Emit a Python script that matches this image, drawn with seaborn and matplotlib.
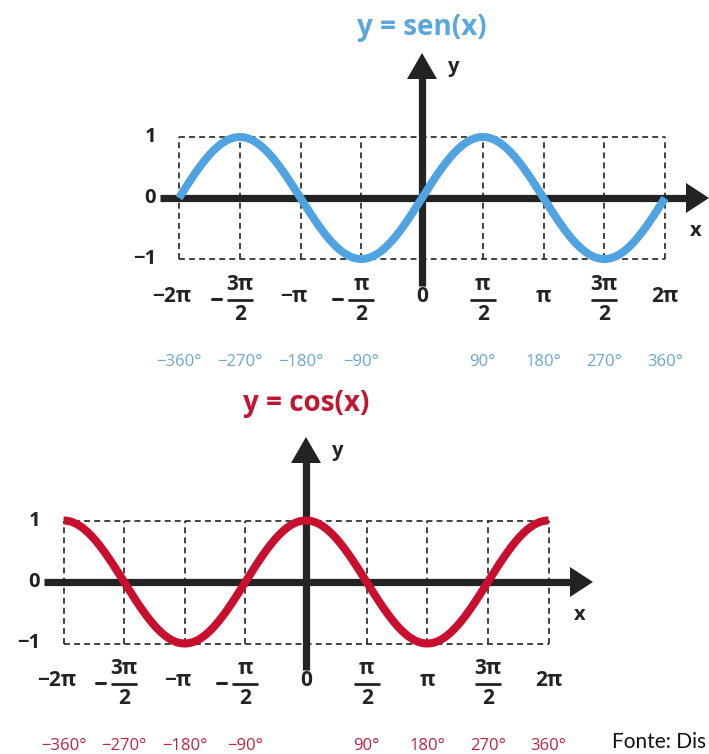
import numpy as np
import matplotlib
matplotlib.use("Agg")
import matplotlib.pyplot as plt
import seaborn as sns

# Grid angles, in multiples of pi/2
half_pi_steps = [-4, -3, -2, -1, 0, 1, 2, 3, 4]
# Radian labels: (sign, numerator, denominator); denominator None means one-line label
radian_labels = [
    ("", "−2π", None), ("−", "3π", "2"), ("", "−π", None), ("−", "π", "2"),
    ("", "0", None), ("", "π", "2"), ("", "π", None), ("", "3π", "2"), ("", "2π", None),
]
degree_labels = ["−360°", "−270°", "−180°", "−90°", "", "90°", "180°", "270°", "360°"]
y_ticks = [1, 0, -1]
y_tick_labels = ["1", "0", "−1"]

titles = ["y = sen(x)", "y = cos(x)"]
functions = [np.sin, np.cos]
curve_colors = ["#4fa3e0", "#c8102e"]
title_colors = ["#5ba6dc", "#c01632"]
degree_colors = ["#6aa6d2", "#c0243c"]

sns.set_theme(style="white")
plt.rcParams["font.family"] = ["Open Sans", "DejaVu Sans"]

W, H = 709, 754
fig = plt.figure(figsize=(W / 100, H / 100), dpi=100)
fig.patch.set_facecolor("white")

DARK = "#232323"

# Panel layout in pixels: origin position, scale per unit, vertical band
panels = [
    dict(ox=422, oy=198, sx=486 / (4 * np.pi), sy=61.0, top=0, bottom=377, title_dy=-170),
    dict(ox=306, oy=582, sx=485 / (4 * np.pi), sy=61.5, top=377, bottom=754, title_dy=-178),
]

x_curve = np.linspace(-2 * np.pi, 2 * np.pi, 721)

for i, p in enumerate(panels):
    ax = fig.add_axes([0, 1 - p["bottom"] / H, 1, (p["bottom"] - p["top"]) / H])
    ax.set_xlim(-p["ox"] / p["sx"], (W - p["ox"]) / p["sx"])
    ax.set_ylim((p["oy"] - p["bottom"]) / p["sy"], (p["oy"] - p["top"]) / p["sy"])
    ax.set_axis_off()

    dx = lambda px: px / p["sx"]
    dy = lambda px: px / p["sy"]

    ticks = [s * np.pi / 2 for s in half_pi_steps]

    # dashed guide box
    dash = dict(color="#2a2a2a", lw=1.25, dashes=(3.4, 2.4), zorder=1)
    for t in ticks:
        ax.plot([t, t], [-1, 1], **dash)
    for yv in (1, -1):
        ax.plot([ticks[0], ticks[-1]], [yv, yv], **dash)

    # x axis with arrow head
    ax.plot([-dx(262), dx(266)], [0, 0], color=DARK, lw=5.2, solid_capstyle="butt", zorder=2)
    ax.fill([dx(264), dx(287), dx(264)], [dy(15), 0, -dy(15)], color=DARK, lw=0, zorder=2)
    # y axis with arrow head
    ax.plot([0, 0], [-dy(88), dy(121)], color=DARK, lw=5.2, solid_capstyle="butt", zorder=2)
    ax.fill([-dx(15), 0, dx(15)], [dy(119), dy(145), dy(119)], color=DARK, lw=0, zorder=2)

    # the curve
    sns.lineplot(x=x_curve, y=functions[i](x_curve), ax=ax, color=curve_colors[i],
                 lw=5.8, zorder=3, sort=False, estimator=None)
    ax.lines[-1].set_solid_capstyle("butt")

    bold = dict(fontweight="bold", color=DARK, va="center")
    ax.text(0, dy(-p["title_dy"]), titles[i], ha="center", va="center",
            fontsize=20, fontweight="bold", color=title_colors[i])
    ax.text(dx(32), dy(131), "y", ha="center", fontsize=14.5, **bold)
    ax.text(dx(274), -dy(33), "x", ha="center", fontsize=14.5, **bold)

    for yv, lab in zip(y_ticks, y_tick_labels):
        ax.text(-dx(266), yv, lab, ha="right", fontsize=14.5, **bold)

    for t, (sign, num, den), deg in zip(ticks, radian_labels, degree_labels):
        if den is None:
            shift = -dx(7) if num.startswith("−") else 0
            ax.text(t + shift, -dy(98), num, ha="center", fontsize=15, **bold)
        else:
            ax.text(t, -dy(86), num, ha="center", fontsize=15, **bold)
            ax.plot([t - dx(12), t + dx(12)], [-dy(102), -dy(102)], color=DARK, lw=2.0)
            ax.text(t, -dy(117), den, ha="center", fontsize=15, **bold)
            if sign:
                ax.plot([t - dx(28), t - dx(19)], [-dy(101), -dy(101)], color=DARK, lw=2.2)
        if deg:
            ax.text(t, -dy(164), deg, ha="center", va="center", fontsize=12,
                    color=degree_colors[i])

fig.text(612 / W, 1 - 742 / H, "Fonte: Dis", ha="left", va="center",
         fontsize=15, color="#111111", family=["Lato", "DejaVu Sans"])

fig.savefig("out.png", dpi=100, facecolor="white")
